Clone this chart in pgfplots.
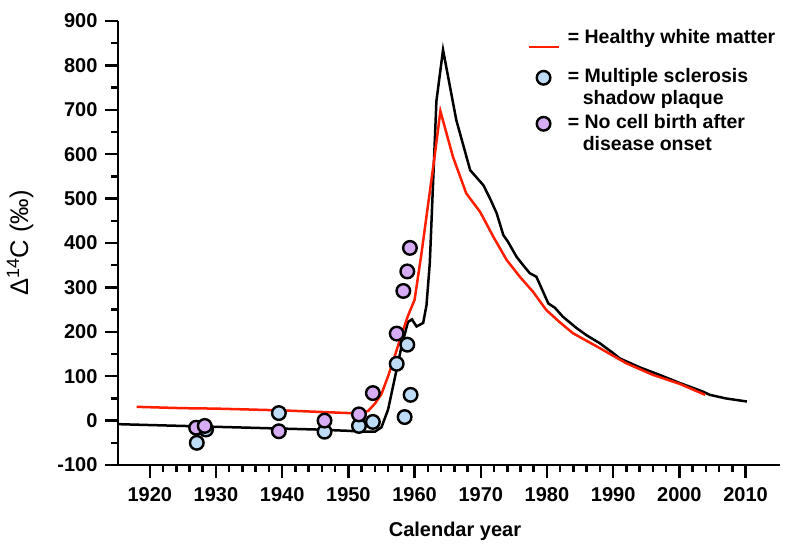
\documentclass[border=0pt]{standalone}
\usepackage{pgfplots}
\pgfplotsset{compat=1.18}
\usepackage{fontspec}
\setmainfont{Liberation Sans}
\definecolor{msblue}{RGB}{190,220,246}
\definecolor{mspurple}{RGB}{214,172,244}
\definecolor{hred}{RGB}{255,30,0}
\pgfplotsset{
  lineleg/.style={legend image code/.code={\draw[##1] (-3pt,0pt) -- (27pt,0pt);}},
  markleg/.style={legend image code/.code={\path (12pt,-20pt) (12pt,20pt); \path[##1] plot[only marks] coordinates {(12pt,11pt)};}},
}
\begin{document}
\begin{tikzpicture}
\begin{axis}[
  scale only axis, width=662pt, height=444pt,
  xmin=1915.2, xmax=2015.2, ymin=-100, ymax=900,
  axis lines=left,
  axis line style={-, line width=2.5pt},
  clip=false,
  xtick={1920,1930,...,2010},
  ytick={-100,0,...,900},
  xticklabels={1920,1930,1940,1950,1960,1970,1980,1990,2000,2010},
  yticklabels={-100,0,100,200,300,400,500,600,700,800,900},
  minor x tick num=4, minor y tick num=1,
  tick align=outside,
  major tick length=13pt, minor tick length=7pt,
  tick style={line width=2.5pt, black},
  tick label style={font=\bfseries\fontsize{20}{24}\selectfont},
  xticklabel style={yshift=-6pt},
  yticklabel style={xshift=-4pt},
  xlabel={Calendar year},
  ylabel={Δ\textsuperscript{14}C (‰)},
  every axis x label/.style={at={(axis description cs:0.509,-0.149)}, anchor=center, font=\bfseries\fontsize{20}{24}\selectfont},
  every axis y label/.style={at={(axis description cs:-0.148,0.5)}, anchor=center, rotate=90, font=\fontsize{25.5}{30}\selectfont},
  legend cell align=left,
  legend style={draw=none, fill=none, at={(axis description cs:0.618,0.981)}, anchor=north west,
    font=\bfseries\fontsize{19.5}{22}\selectfont, row sep=2pt, inner sep=0pt,
    nodes={inner sep=0pt, text depth=, text height=}, column sep=8pt},
]
% black atmospheric curve
\addplot[black, line width=2.5pt, forget plot] coordinates {
(1915.2,-8) (1920,-10) (1925,-12) (1930,-14) (1935,-16) (1940,-18) (1945,-20)
(1950,-23) (1952,-25) (1954,-25) (1955,-15) (1956,25) (1957,95) (1958,165)
(1959,222) (1959.6,228) (1960.3,212) (1961.3,220) (1961.8,260) (1962.3,355)
(1963.3,720) (1964.3,835) (1966.3,677) (1968.4,564) (1970.4,530) (1971.4,500)
(1972.4,467) (1973.4,418) (1974.1,403) (1975.4,369) (1976.4,350) (1977.4,332)
(1978.4,324) (1980.2,264) (1981.2,254) (1982.4,234) (1984.5,208) (1986,192)
(1988,174) (1990,152) (1991,140) (1994,120) (1997,103) (2000,85) (2002,74)
(2003.6,65) (2004.6,58) (2007,50) (2010.2,43)
};
% red healthy white matter
\addplot[hred, line width=2.5pt, lineleg] coordinates {
(1918,31) (1925,28) (1930,27) (1935,25) (1940,23) (1945,20) (1950,17) (1952,16)
(1953,22) (1954,38) (1955,60) (1956,100) (1957,145) (1958,192) (1959,236)
(1960,272) (1961,372) (1962,482) (1963,592) (1963.9,697) (1965.8,594)
(1967.8,512) (1969.9,470) (1971.9,414) (1973.9,362) (1975.9,324) (1977.9,290)
(1979.9,249) (1981.9,222) (1983.9,197) (1988,163) (1992,129) (1996,103)
(2000,83) (2003.9,58)
};
\addlegendentry{\rule[-21pt]{0pt}{1pt}= Healthy white matter}
% blue MS shadow plaque
\addplot[only marks, mark=*, mark size=6.8pt, mark options={fill=msblue, draw=black, line width=2.4pt}, markleg] coordinates {
(1928.5,-20) (1927.1,-50) (1939.5,17) (1946.4,-25) (1951.6,-12) (1953.7,-3)
(1957.3,128) (1958.5,8) (1959.4,58)
};
\addlegendentry{\begin{tabular}[t]{@{}l@{}}= Multiple sclerosis\\\hspace{15pt}shadow plaque\end{tabular}}
% purple no cell birth
\addplot[only marks, mark=*, mark size=6.8pt, mark options={fill=mspurple, draw=black, line width=2.4pt}, markleg] coordinates {
(1927.0,-16) (1928.3,-12) (1939.5,-24) (1946.4,0) (1951.6,14) (1953.7,62)
(1957.3,196) (1958.3,292) (1958.9,336) (1959.3,389)
};
\addlegendentry{\begin{tabular}[t]{@{}l@{}}= No cell birth after\\\hspace{15pt}disease onset\end{tabular}}
\addplot[only marks, mark=*, mark size=6.8pt, mark options={fill=msblue, draw=black, line width=2.4pt}, forget plot] coordinates {
(1958.9,171)
};
\end{axis}
\pgfresetboundingbox
\path[use as bounding box] (-118pt,-93pt) rectangle (682pt,465pt);
\end{tikzpicture}
\end{document}
